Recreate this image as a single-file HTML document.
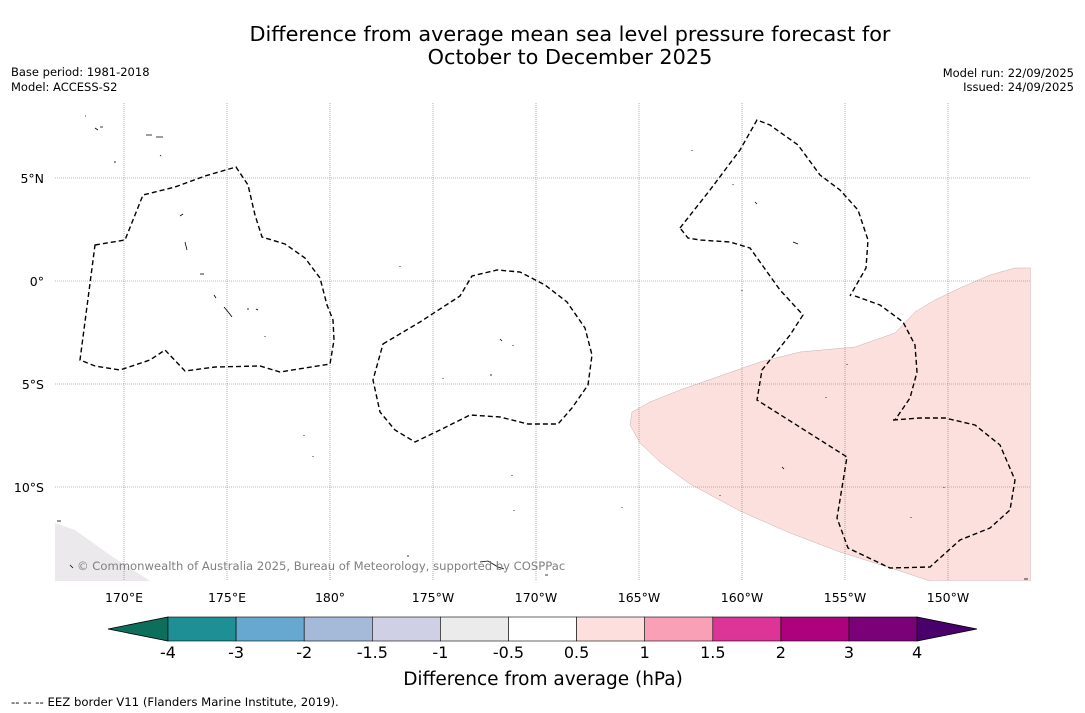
<!DOCTYPE html>
<html><head><meta charset="utf-8"><style>
html,body{margin:0;padding:0;background:#fff;width:1085px;height:713px;overflow:hidden;font-family:"DejaVu Sans","Liberation Sans",sans-serif;}
svg{display:block}
</style></head><body>
<svg id="chart" width="1085" height="713" xmlns="http://www.w3.org/2000/svg" font-family="DejaVu Sans, Liberation Sans, sans-serif">
<text x="570" y="41" font-size="20.8" text-anchor="middle">Difference from average mean sea level pressure forecast for</text>
<text x="570" y="64" font-size="20.8" text-anchor="middle">October to December 2025</text>
<text x="11" y="76" font-size="11.5">Base period: 1981-2018</text>
<text x="11" y="91" font-size="11.5">Model: ACCESS-S2</text>
<text x="1074" y="77" font-size="11.5" text-anchor="end">Model run: 22/09/2025</text>
<text x="1074" y="91" font-size="11.5" text-anchor="end">Issued: 24/09/2025</text>
<defs><clipPath id="mapclip"><rect x="55" y="103" width="976" height="478"/></clipPath></defs>
<g id="map" clip-path="url(#mapclip)">
<path d="M1031,268 L1015,268 990,275 960,288 935,300 915,312 895,333 855,347 800,352 760,362 720,376 680,390 650,402 632,412 630,425 640,443 660,462 690,484 740,511 790,533 840,552 900,571 930,581 1031,581 Z" fill="#fce0dd" stroke="#c8b0b0" stroke-width="0.5"/>
<path d="M55,523 L75,530 110,555 150,581 55,581 Z" fill="#ebe9ec"/>
<g id="grid"></g>
<path d="M95,245 L125,240 143,195 175,187 205,176 236,167 248,185 255,215 262,237 285,244 305,258 320,278 327,305 333,320 334,340 330,364 280,372 260,366 215,367 185,371 165,350 150,360 120,370 95,366 80,360 Z" fill="none" stroke="#000" stroke-width="1.4" stroke-dasharray="5,3"/>
<path d="M383,344 L420,322 460,296 472,276 497,270 520,272 545,285 567,302 585,328 592,355 588,385 572,408 558,424 528,424 500,417 470,415 440,430 415,442 395,430 380,412 373,380 Z" fill="none" stroke="#000" stroke-width="1.4" stroke-dasharray="5,3"/>
<path d="M680,228 L710,190 740,150 757,120 770,125 798,145 820,175 840,190 858,210 868,240 866,268 850,296 M855,296 L880,305 903,322 915,345 917,372 910,398 895,420 M893,420 L920,418 945,418 975,425 1000,445 1015,480 1010,510 990,528 960,540 930,567 890,568 848,548 837,518 847,457 757,400 762,370 790,335 803,315 780,290 750,248 730,242 700,240 688,238 680,228" fill="none" stroke="#000" stroke-width="1.4" stroke-dasharray="5,3"/>
<g fill="none" stroke="#000" stroke-width="0.8">
<path d="M146,135 h6 M156,137 h7"/><path d="M180,216 l3,-2"/><path d="M185,242 l2,8"/><path d="M200,274 h4"/><path d="M214,295 l2,3"/><path d="M224,307 l5,6 l3,4"/><path d="M500,339 l2,2"/><path d="M490,375 h2"/><path d="M755,202 l2,2"/><path d="M793,242 l5,2"/><path d="M782,467 l2,2"/><path d="M480,562 l8,-1 l10,6 l6,2"/><path d="M57,521 h4"/><path d="M70,565 l3,3"/><path d="M720,495 v1"/><path d="M1024,579 h4"/><path d="M95,128 l3,2 M100,127 h3 M85,116 h1 M115,161 v2 M160,155 l1,1 M248,308 v2 M256,309 l2,1 M265,336 v1 M304,435 v1 M313,456 v1 M400,266 v1 M443,378 v1 M513,345 v1 M512,475 v1 M514,510 v1 M692,150 v1 M733,184 v1 M742,290 v1 M847,364 v1 M826,397 v1 M911,517 v1 M944,487 v1 M622,507 v1 M408,555 v2 M545,575 h3"/></g>
</g>
<text x="77" y="570" font-size="11.6" fill="#808080">© Commonwealth of Australia 2025, Bureau of Meteorology, supported by COSPPac</text>
<g id="axislabels"></g>
<g id="colorbar"></g>
<text x="543" y="685" font-size="18.5" text-anchor="middle">Difference from average (hPa)</text>
<text x="11" y="706" font-size="11.7">--  --  -- EEZ border V11 (Flanders Marine Institute, 2019).</text>
</svg>
<script>
const lonTicks=["170°E","175°E","180°","175°W","170°W","165°W","160°W","155°W","150°W"];
const lonValues=[170,175,180,185,190,195,200,205,210];
const latTicks=["5°N","0°","5°S","10°S"];
const latValues=[5,0,-5,-10];
const cbLabels=["-4","-3","-2","-1.5","-1","-0.5","0.5","1","1.5","2","3","4"];
const cbColors=["#1d8f95","#66a8cf","#a5b9d9","#cfcfe5","#ebebeb","#ffffff","#fde0dd","#f9a0b6","#dd3497","#ae017e","#7a0177"];
const NS="http://www.w3.org/2000/svg";
const xOf=lon=>124+(lon-170)*20.6;
const yOf=lat=>281-lat*20.6;
function mk(t,a,p){const e=document.createElementNS(NS,t);for(const k in a)e.setAttribute(k,a[k]);p.appendChild(e);return e;}
const grid=document.getElementById('grid'),ax=document.getElementById('axislabels');
lonValues.forEach((v,i)=>{
 const l=mk('line',{x1:xOf(v),x2:xOf(v),y1:103,y2:581,stroke:'#777','stroke-width':0.6,'stroke-dasharray':'1,1'},grid);
 
 
 const t=mk('text',{x:xOf(v),y:602,'font-size':12.5,'text-anchor':'middle'},ax);t.textContent=lonTicks[i];
 
 
});
latValues.forEach((v,i)=>{
 const l=mk('line',{x1:55,x2:1031,y1:yOf(v),y2:yOf(v),stroke:'#777','stroke-width':0.6,'stroke-dasharray':'1,1'},grid);
 
 
 const t=mk('text',{x:44,y:yOf(v)+5,'font-size':12.5,'text-anchor':'end'},ax);t.textContent=latTicks[i];
 
 
});
const cb=document.getElementById('colorbar');
const x0=168,w=68.1,y0=617,h=24;
const lt=mk('polygon',{points:`108,${y0+h/2} ${x0},${y0} ${x0},${y0+h}`,fill:'#0e6e5c',stroke:'#000','stroke-width':0.8},cb);


cbColors.forEach((c,i)=>{
 const r=mk('rect',{x:x0+i*w,y:y0,width:w,height:h,fill:c,stroke:'#000','stroke-width':0.6},cb);
 
 
});
const xe=x0+cbColors.length*w;
const rt=mk('polygon',{points:`${xe},${y0} 977,${y0+h/2} ${xe},${y0+h}`,fill:'#49006a',stroke:'#000','stroke-width':0.8},cb);


cbLabels.forEach((s,i)=>{
 const t=mk('text',{x:x0+i*w,y:658,'font-size':16,'text-anchor':'middle'},cb);t.textContent=s;
 
 
});
</script>
</body></html>
